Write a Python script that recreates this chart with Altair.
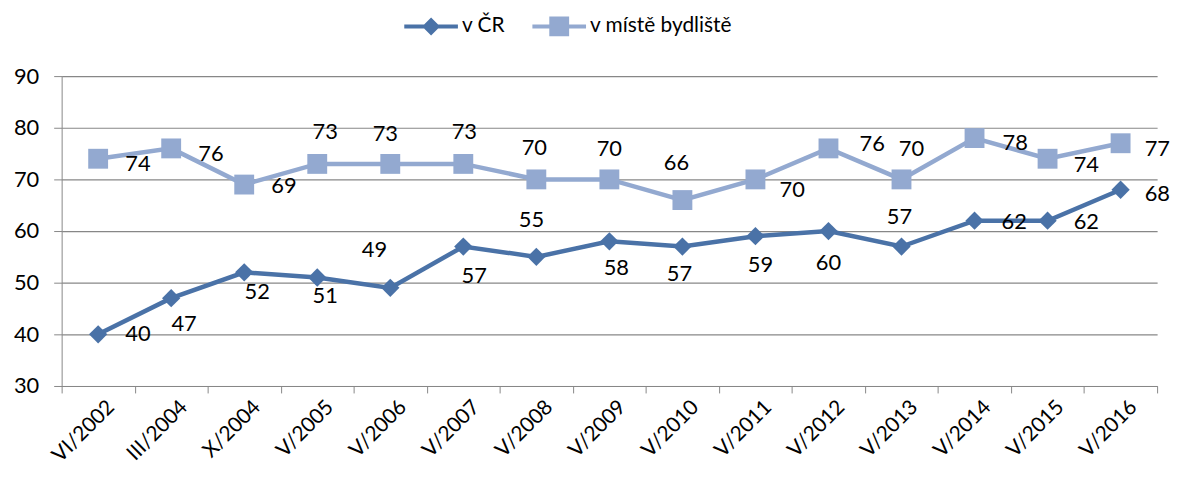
import altair as alt
import pandas as pd

categories = ["VI/2002", "III/2004", "X/2004", "V/2005", "V/2006", "V/2007", "V/2008",
              "V/2009", "V/2010", "V/2011", "V/2012", "V/2013", "V/2014", "V/2015", "V/2016"]
series_names = ["v ČR", "v místě bydliště"]
values_cr = [40, 47, 52, 51, 49, 57, 55, 58, 57, 59, 60, 57, 62, 62, 68]
values_misto = [74, 76, 69, 73, 73, 73, 70, 70, 66, 70, 76, 70, 78, 74, 77]

# data-label placement (pixel offsets from each point)
dx_cr = [40, 13, 13, 8, -16, 11, -5, 7, -3, 5, 0, -2, 40, 39, 37]
dy_cr = [0, 26, 20, 19, -38, 30, -37, 27, 28, 29, 32, -30, 1, 1, 4]
dx_misto = [40, 40, 40, 8, -5, 1, -2, 0, -6, 37, 44, 10, 41, 39, 37]
dy_misto = [5, 6, 1, -32, -30, -32, -32, -31, -37, 11, -4, -31, 5, 6, 6]

colors = ["#4A72A7", "#93A9D0"]
grid_color = "#878787"
font = "Lato"

rows = []
for i, c in enumerate(categories):
    rows.append({"cat": c, "series": series_names[0], "value": values_cr[i],
                 "dx": dx_cr[i], "dy": dy_cr[i]})
    rows.append({"cat": c, "series": series_names[1], "value": values_misto[i],
                 "dx": dx_misto[i], "dy": dy_misto[i]})
df = pd.DataFrame(rows)

x_enc = alt.X("cat:N", sort=categories,
              scale=alt.Scale(type="band", domain=categories, paddingInner=0, paddingOuter=0),
              axis=alt.Axis(title=None, tickBand="extent", labelAngle=-45, labelAlign="right",
                            labelBaseline="top", tickSize=7, labelPadding=3, labelFontSize=21,
                            labelColor="black", domainColor=grid_color, tickColor=grid_color,
                            grid=False, labelFont=font, labelOffset=5))
y_enc = alt.Y("value:Q",
              scale=alt.Scale(domain=[30, 90], nice=False, zero=False),
              axis=alt.Axis(title=None, values=[30, 40, 50, 60, 70, 80, 90], grid=True,
                            gridColor=grid_color, domainColor=grid_color, tickColor=grid_color,
                            tickSize=8, labelPadding=15, labelFontSize=22, labelColor="black",
                            labelFont=font, gridWidth=1.2))

path_diamond = "M-1,-0.074H-0.26L0,-0.333L0.26,-0.074H1V0.074H0.26L0,0.333L-0.26,0.074H-1Z"
path_square = "M-1,-0.074H-0.37V-0.37H0.37V-0.074H1V0.074H0.37V0.37H-0.37V0.074H-1Z"

legend_def = alt.Legend(title=None, orient="none", legendX=345, legendY=-77, direction="horizontal",
                        symbolSize=2916, symbolStrokeWidth=0, labelFont=font, labelFontSize=21,
                        labelColor="black", labelOffset=4, columnPadding=27, padding=0)

base = alt.Chart(df)

legend_layer = base.transform_filter("datum.value < 0").mark_point(filled=True, opacity=1).encode(
    x=x_enc, y=y_enc,
    color=alt.Color("series:N", scale=alt.Scale(domain=series_names, range=colors), legend=legend_def),
    shape=alt.Shape("series:N", scale=alt.Scale(domain=series_names, range=[path_diamond, path_square]),
                    legend=legend_def),
)

layers = [legend_layer]
for name, col, shp, sz in [(series_names[1], colors[1], "square", 400),
                           (series_names[0], colors[0], "diamond", 340)]:
    sub = base.transform_filter(alt.datum.series == name)
    layers.append(sub.mark_line(strokeWidth=4.5, color=col).encode(x=x_enc, y=y_enc))
    layers.append(sub.mark_point(filled=True, opacity=1, shape=shp, size=sz, color=col,
                                 strokeWidth=0).encode(x=x_enc, y=y_enc))
    layers.append(sub.mark_text(font=font, fontSize=22, color="black", align="center",
                                baseline="middle", dx=alt.expr("datum.dx"),
                                dy=alt.expr("datum.dy")).encode(x=x_enc, y=y_enc,
                                                                text="value:Q"))

chart = alt.layer(*layers).properties(
    width=1103, height=312,
    autosize=alt.AutoSizeParams(type="none"),
    padding={"left": 54, "top": 67, "right": 16, "bottom": 80},
).configure_view(stroke=None)

chart.save("out.html", embed_options={"renderer": "svg", "actions": False})
